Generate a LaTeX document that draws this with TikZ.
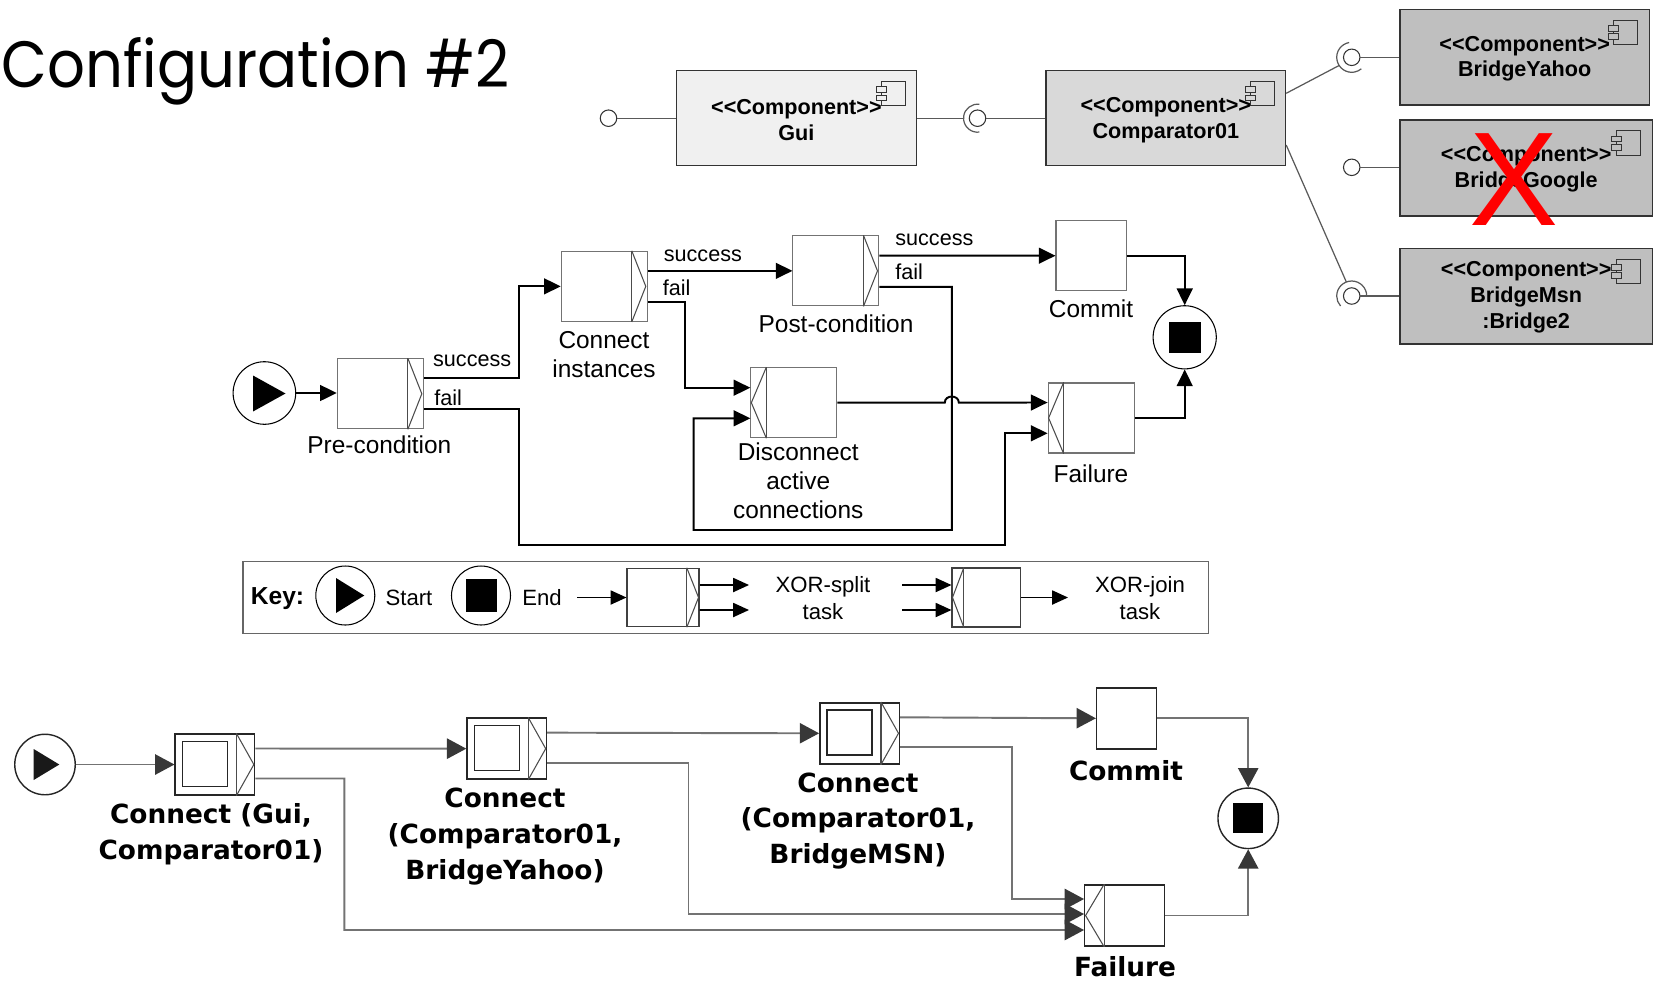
\documentclass[tikz,border=0pt]{standalone}
\usepackage{fontspec}
\setmainfont{Liberation Sans}
\newfontfamily\dejavu{DejaVu Sans}
\newfontfamily\titlefnt{Poppins}
\usetikzlibrary{arrows.meta,calc}
\newcommand\splitmark[3]{%
  \draw[markln] ($(#1.north east)+(-#2,0)$) -- ($(#1.south east)+(-#2,0)$);
  \draw[markln] ($(#1.north east)+(-#2,0)$) -- ($(#1.east)+(-#3,0)$) -- ($(#1.south east)+(-#2,0)$);}
\newcommand\joinmark[3]{%
  \draw[markln] ($(#1.north west)+(#2,0)$) -- ($(#1.south west)+(#2,0)$);
  \draw[markln] ($(#1.north west)+(#2,0)$) -- ($(#1.west)+(#3,0)$) -- ($(#1.south west)+(#2,0)$);}
\begin{document}
\begin{tikzpicture}[x=0.02cm,y=-0.02cm,
  comp/.style={draw=black!80, line width=0.7pt, inner sep=0},
  comptxt/.style={inner sep=0, align=center, font=\bfseries\fontsize{12.3}{14.6}\selectfont},
  cline/.style={draw=black!65, line width=0.7pt},
  ball/.style={circle, draw=black!80, line width=0.6pt, fill=white, minimum size=0.33cm, inner sep=0},
  task/.style={draw=black!55, line width=0.6pt, fill=white, minimum width=1.72cm, minimum height=1.4cm, inner sep=0},
  markln/.style={draw=black!70, line width=0.6pt},
  flow/.style={line width=1.1pt, -{Triangle[length=9.5pt,width=9pt]}},
  kflow/.style={line width=0.9pt, -{Triangle[length=9pt,width=8pt]}},
  evt/.style={circle, draw=black, line width=0.6pt, inner sep=0},
  lbl/.style={font=\fontsize{13.9}{16.6}\selectfont, align=center, inner sep=0},
  elbl/.style={font=\fontsize{12.3}{14}\selectfont, inner sep=0, anchor=west},
  klbl/.style={font=\fontsize{12.6}{15.3}\selectfont, align=center, inner sep=0},
  btask/.style={draw=black!85, line width=0.8pt, fill=white, minimum width=1.59cm, minimum height=1.22cm, inner sep=0},
  bflow/.style={draw=black!55, line width=1.1pt, -{Triangle[length=11pt,width=11.5pt,color=black!78]}},
  bevt/.style={circle, draw=black!85, line width=0.8pt, inner sep=0, minimum size=1.21cm},
  blbl/.style={font=\dejavu\bfseries\fontsize{15}{20.3}\selectfont, align=center, inner sep=0},
  pics/compicon/.style={code={
    \draw[draw=black!80, line width=0.5pt] (-24,0) rectangle (0,24.3);
    \draw[draw=black!80, line width=0.5pt, fill=#1] (-29,5.3) rectangle (-19,11);
    \draw[draw=black!80, line width=0.5pt, fill=#1] (-29,13.6) rectangle (-19,19.3);
  }}
]
\useasboundingbox (0,0) rectangle (1655,981);

% ---------- title ----------
\node[anchor=base west, inner sep=0] (title) at (1,87.3) {\resizebox{10.16cm}{1.0cm}{\titlefnt Configuration \#2}};

% ---------- components ----------
\node[comp, fill=black!6, minimum width=4.792cm, minimum height=1.9cm] (gui) at (796.4,118.2) {};
\node[comptxt] (guit) at (796.4,120) {<\kern0pt<Component>\kern0pt>\\Gui};
\node[comp, fill=black!15, minimum width=4.792cm, minimum height=1.9cm] (comp) at (1165.8,118.2) {};
\node[comptxt] (compt) at (1165.8,120) {<\kern0pt<Component>\kern0pt>\\Comparator01};
\node[comp, fill=black!25, minimum width=4.986cm, minimum height=1.914cm] (by) at (1524.65,57.15) {};
\node[comptxt] (byt) at (1524.65,58.6) {<\kern0pt<Component>\kern0pt>\\BridgeYahoo};
\node[comp, fill=black!25, minimum width=5.046cm, minimum height=1.92cm] (bg) at (1526.15,168) {};
\node[comptxt] (bgt) at (1526.15,169.5) {<\kern0pt<Component>\kern0pt>\\BridgeGoogle};
\node[comp, fill=black!25, minimum width=5.046cm, minimum height=1.914cm] (bm) at (1526.15,296.15) {};
\node[comptxt] (bmt) at (1526.15,297.2) {<\kern0pt<Component>\kern0pt>\\BridgeMsn\\:Bridge2};
\pic at ($(gui.north east)+(-11.5,11.5)$) {compicon=black!6};
\pic at ($(comp.north east)+(-11.5,11.5)$) {compicon=black!15};
\pic at ($(by.north east)+(-12,11.5)$) {compicon=black!25};
\pic at ($(bg.north east)+(-12,11.5)$) {compicon=black!25};
\pic at ($(bm.north east)+(-12,11.5)$) {compicon=black!25};

% interfaces
\node[ball] (gl) at (608.5,118.2) {};
\draw[cline] (gl.east) -- (gui.west);
\node[ball] (gcb) at (977.5,118.2) {};
\draw[cline] ($(gcb.center)+(82:0.28cm)$) arc[start angle=82, end angle=278, radius=0.28cm];
\draw[cline] (gui.east) -- ($(gcb.center)+(-14,0)$);
\draw[cline] (gcb.east) -- (comp.west);

\node[ball] (bys) at (1351.7,57.3) {};
\draw[cline] ($(bys.center)+(100:0.3cm)$) arc[start angle=100, end angle=310, radius=0.3cm];
\draw[cline] ($(comp.east)+(0,-24.9)$) -- ($(bys.center)+(213:0.3cm)$);
\draw[cline] (bys.east) -- (bys.east -| by.west);

\node[ball] (bgl) at (1351.7,167.3) {};
\draw[cline] (bgl.east) -- (bgl.east -| bg.west);

\node[ball] (bms) at (1351.7,296) {};
\draw[cline] ($(bms.center)+(0:0.3cm)$) arc[start angle=0, end angle=222, radius=0.3cm];
\draw[cline] ($(comp.east)+(0,26.8)$) -- ($(bms.center)+(111:0.3cm)$);
\draw[cline] (bms.east) -- (bms.east -| bm.west);

\node[text=red, font=\fontsize{76}{76}\selectfont, anchor=base, inner sep=0] (xmark) at (1514,225) {X};

% ---------- middle workflow ----------
\node[evt, minimum size=1.252cm] (start1) at (264.4,393) {};
\fill ($(start1.center)+(-11.4,-17.5)$) -- ($(start1.center)+(21.1,0.5)$) -- ($(start1.center)+(-11.4,18.5)$) -- cycle;
\node[task] (pre) at (380.3,393.8) {};
\splitmark{pre}{16}{2}
\node[task] (conn) at (604.25,286.35) {};
\splitmark{conn}{16}{2}
\node[task] (post) at (835.95,270.85) {};
\splitmark{post}{16}{2}
\node[task] (disc) at (793.85,402.7) {};
\joinmark{disc}{16}{1}
\node[task, minimum width=1.404cm] (commit) at (1091.1,255.7) {};
\node[task] (fail) at (1091.1,418) {};
\joinmark{fail}{16}{1}
\node[evt, minimum size=1.264cm] (end1) at (1184.7,337.3) {};
\fill ($(end1.center)+(-15.8,-15.8)$) rectangle ++(31.6,31.6);

\node[lbl] (prelbl) at (379.4,444.6) {Pre-condition};
\node[lbl] (connlbl) at (604,354.6) {Connect\\instances};
\node[lbl] (postlbl) at (836,324) {Post-condition};
\node[lbl] (disclbl) at (798.2,480.7) {Disconnect\\active\\connections};
\node[lbl] (commitlbl) at (1091,308.3) {Commit};
\node[lbl] (faillbl) at (1091,473.5) {Failure};

\node[elbl] (s1) at (432.8,361) {success};
\node[elbl] (f1) at (434,397.3) {fail};
\node[elbl] (s2) at (663.5,256.2) {success};
\node[elbl] (f2) at (662.5,287.6) {fail};
\node[elbl] (s3) at (895,240) {success};
\node[elbl] (f3) at (895,272) {fail};

\draw[flow] (start1.east) -- (start1.east -| pre.west);
\draw[flow] ($(pre.east)+(0,-15.5)$) -| (518.6,286.35) -- (conn.west);
\draw[flow] ($(pre.east)+(0,15.5)$) -| (518.6,545) -| (1005.2,433.3) -- ($(fail.west)+(0,15.3)$);
\draw[flow] ($(conn.east)+(0,-15.5)$) -- (post.west);
\draw[flow] ($(conn.east)+(0,15.5)$) -| (685,387.7) -- ($(disc.west)+(0,-15)$);
\draw[flow] ($(post.east)+(0,-15.2)$) -- (commit.west);
\draw[flow] ($(post.east)+(0,16)$) -| (951.8,530) -| (693.6,418.3) -- ($(disc.west)+(0,15.6)$);
\draw[flow] (disc.east) -- (944.8,402.6) .. controls (944.8,394.5) and (958.8,394.5) .. (958.8,402.6) -- ($(fail.west)+(0,-15.5)$);
\draw[flow] (commit.east) -| (end1.north);
\draw[flow] (fail.east) -| (end1.south);

% ---------- key ----------
\node[draw=black!60, line width=0.7pt, minimum width=19.314cm, minimum height=1.436cm, inner sep=0] (keybox) at (725.65,597.4) {};
\node[font=\bfseries\fontsize{14}{16}\selectfont, inner sep=0] (keylbl) at (277.5,598.5) {Key:};
\node[evt, minimum size=1.18cm] (kstart) at (345.3,595.5) {};
\fill ($(kstart.center)+(-9.3,-17.5)$) -- ($(kstart.center)+(19,0)$) -- ($(kstart.center)+(-9.3,17.5)$) -- cycle;
\node[klbl] (kst) at (409,598) {Start};
\node[evt, minimum size=1.18cm] (kend) at (481,595.5) {};
\fill ($(kend.center)+(-15.5,-16.5)$) rectangle ++(31,33);
\node[klbl] (ken) at (542,598) {End};
\coordinate (ka0) at (577,597.5);
\node[task, draw=black!75, minimum width=1.44cm, minimum height=1.168cm] (ksplit) at (663,597.5) {};
\splitmark{ksplit}{12.75}{1}
\draw[kflow] (ka0) -- (ksplit.west);
\coordinate (ks1) at (749,585);
\coordinate (ks2) at (749,610);
\draw[kflow] ($(ksplit.east)+(0,-12.5)$) -- (ks1);
\draw[kflow] ($(ksplit.east)+(0,12.5)$) -- (ks2);
\node[klbl] (ksplitlbl) at (823,598) {XOR-split\\task};
\node[task, draw=black!75, minimum width=1.372cm, minimum height=1.18cm] (kjoin) at (986.3,597.5) {};
\joinmark{kjoin}{12.4}{1}
\coordinate (kj1) at (902,585);
\coordinate (kj2) at (902,610);
\draw[kflow] (kj1) -- ($(kjoin.west)+(0,-12.5)$);
\draw[kflow] (kj2) -- ($(kjoin.west)+(0,12.5)$);
\coordinate (kjo) at (1068,597.5);
\draw[kflow] (kjoin.east) -- (kjo);
\node[klbl] (kjoinlbl) at (1140,598) {XOR-join\\task};

% ---------- bottom workflow ----------
\node[bevt] (start2) at (45,764.5) {};
\fill[black!90] ($(start2.center)+(-11.3,-15.5)$) -- ($(start2.center)+(14.3,0)$) -- ($(start2.center)+(-11.3,15.5)$) -- cycle;
\node[btask] (c1) at (214.9,764.5) {};
\node[btask] (c2) at (506.75,748.65) {};
\node[btask] (c3) at (859.55,733.3) {};
\foreach \n in {c1,c2,c3}{
  \draw[draw=black!85, line width=0.8pt] ($(\n.north west)+(8,8)$) rectangle ++(45,45);
  \splitmark{\n}{19}{1.5}
}
\node[btask, minimum width=1.2cm] (commit2) at (1126.6,718.3) {};
\node[btask] (fail2) at (1124.5,915.5) {};
\joinmark{fail2}{20}{1.5}
\node[bevt] (end2) at (1248.2,818.3) {};
\fill[black] ($(end2.center)+(-15,-15)$) rectangle ++(30,30);

\node[blbl] (c1lbl) at (211,834) {Connect (Gui,\\Comparator01)};
\node[blbl] (c2lbl) at (505,836.5) {Connect\\(Comparator01,\\BridgeYahoo)};
\node[blbl] (c3lbl) at (858,821) {Connect\\(Comparator01,\\BridgeMSN)};
\node[blbl] (commit2lbl) at (1126,770.5) {Commit};
\node[blbl] (fail2lbl) at (1125,966.5) {Failure};

\draw[bflow] (start2.east) -- (c1.west);
\draw[bflow] ($(c1.east)+(0,-16)$) -- (c2.west);
\draw[bflow] ($(c1.east)+(0,14)$) -| (344.4,930) -- ($(fail2.west)+(0,14.5)$);
\draw[bflow] ($(c2.east)+(0,-16)$) -- (c3.west);
\draw[bflow] ($(c2.east)+(0,14)$) -| (688.5,914) -- ($(fail2.west)+(0,-1.5)$);
\draw[bflow] ($(c3.east)+(0,-16)$) -- (commit2.west);
\draw[bflow] ($(c3.east)+(0,14)$) -| (1011.6,899) -- ($(fail2.west)+(0,-16.5)$);
\draw[bflow] (commit2.east) -| (end2.north);
\draw[bflow] (fail2.east) -| (end2.south);
\end{tikzpicture}
\end{document}
